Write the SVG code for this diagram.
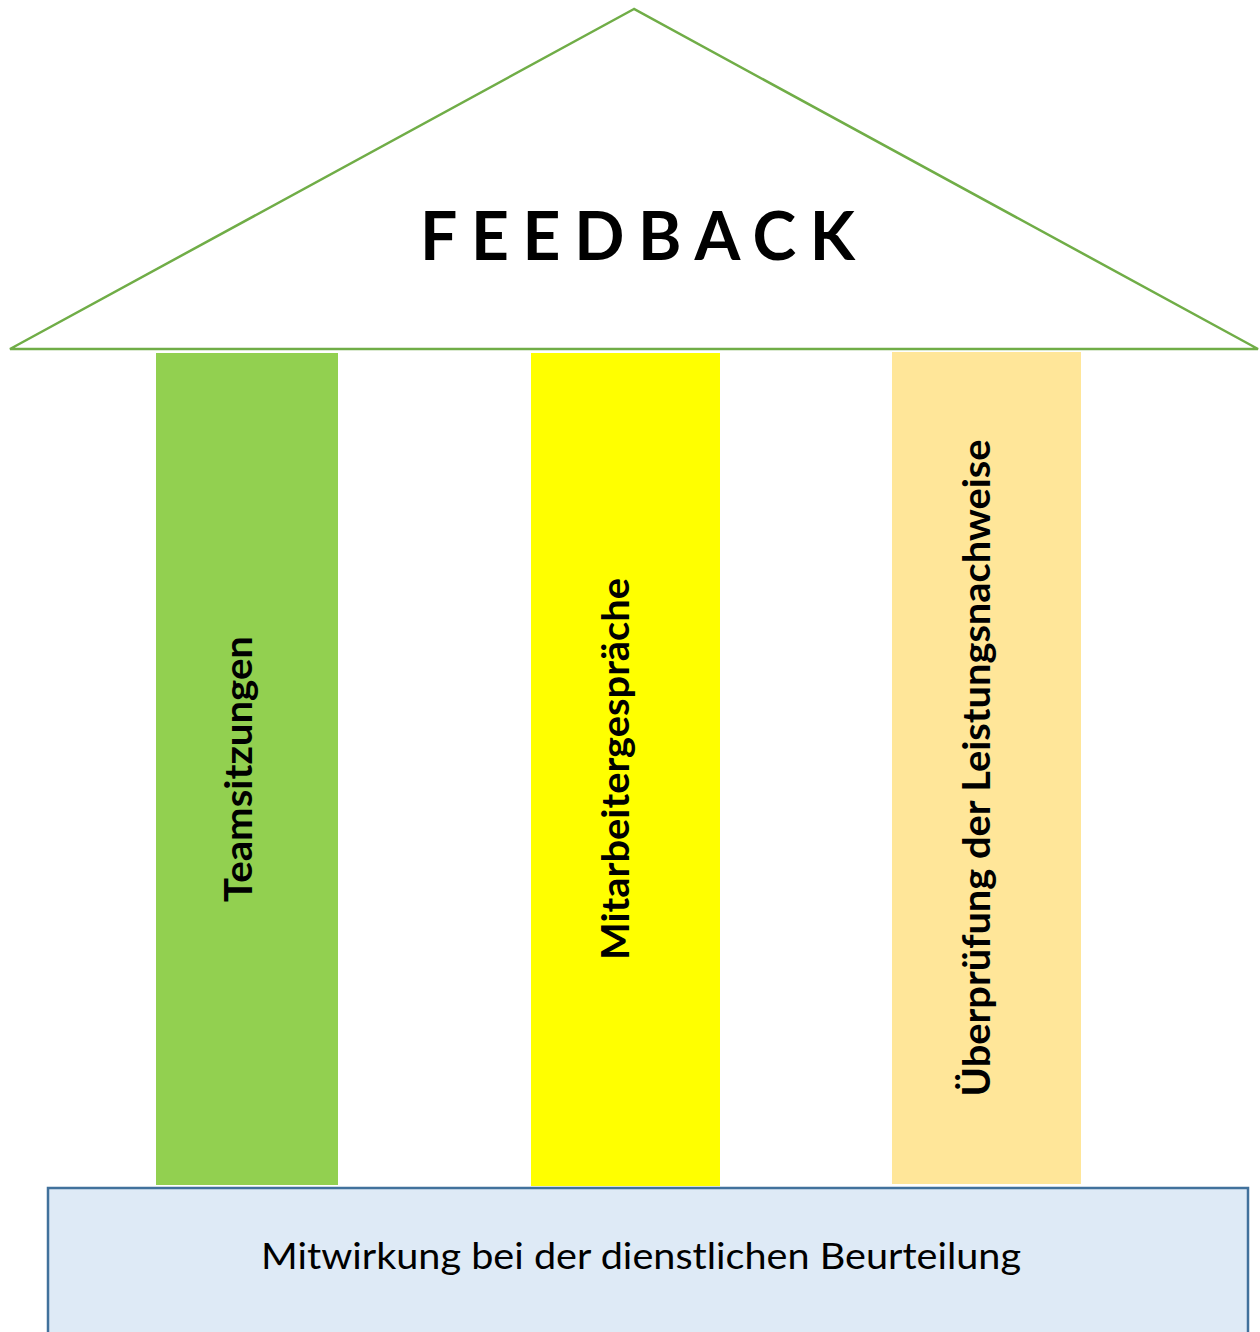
<svg xmlns="http://www.w3.org/2000/svg" width="1260" height="1332" viewBox="0 0 1260 1332">
<style>
.lbl{font-family:Lato,"Open Sans","Liberation Sans",sans-serif;fill:#000}
.b{font-weight:bold}
</style>
<rect width="1260" height="1332" fill="#fff"/>
<g id="roof">
<polygon points="634,9 10,349 1258,349" fill="#fff" stroke="#70AD47" stroke-width="2.5" stroke-linejoin="miter"/>
<text class="lbl b" x="420" y="260" font-size="66" textLength="435" lengthAdjust="spacing">FEEDBACK</text>
</g>
<g id="pillar1">
<rect x="156" y="353" width="182" height="832" fill="#92D050"/>
<text class="lbl b" transform="translate(252,769) rotate(-90)" text-anchor="middle" font-size="38" textLength="266" lengthAdjust="spacingAndGlyphs">Teamsitzungen</text>
</g>
<g id="pillar2">
<rect x="531" y="353" width="189" height="833" fill="#FFFF00"/>
<text class="lbl b" transform="translate(629,769) rotate(-90)" text-anchor="middle" font-size="38" textLength="382" lengthAdjust="spacingAndGlyphs">Mitarbeitergespräche</text>
</g>
<g id="pillar3">
<rect x="892" y="352" width="189" height="832" fill="#FFE699"/>
<text class="lbl b" transform="translate(990,768) rotate(-90)" text-anchor="middle" font-size="38" textLength="657" lengthAdjust="spacingAndGlyphs">Überprüfung der Leistungsnachweise</text>
</g>
<g id="base">
<rect x="48" y="1188" width="1200" height="170" fill="#DEEAF6" stroke="#41719C" stroke-width="2.5"/>
<text class="lbl" x="641" y="1269" text-anchor="middle" font-size="36" textLength="760" lengthAdjust="spacingAndGlyphs">Mitwirkung bei der dienstlichen Beurteilung</text>
</g>
<g id="connectors"></g>
</svg>
